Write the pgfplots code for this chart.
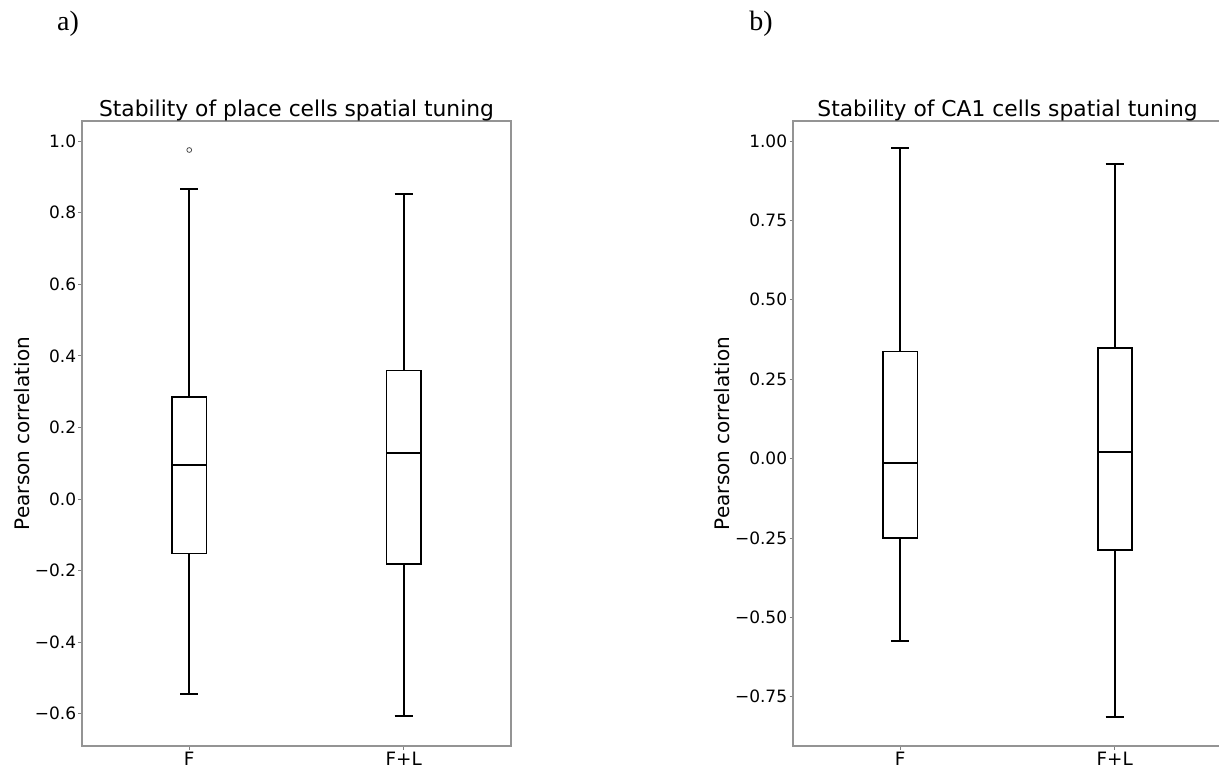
\documentclass[border=0pt]{standalone}
\usepackage{fontspec}
\setmainfont{DejaVu Sans}
\newfontfamily\timesfont{Liberation Serif}
\usepackage{pgfplots}
\pgfplotsset{compat=1.18}
\usepgfplotslibrary{statistics}
\begin{document}
\begin{tikzpicture}
\useasboundingbox (0,0) rectangle (609.5pt,384pt);
\pgfplotsset{
  myax/.style={
    scale only axis, width=214.5pt, height=312.5pt,
    anchor=south west,
    xmin=0.5, xmax=2.5,
    xtick={1,2}, xticklabels={F,F+L},
    xtick pos=bottom, ytick pos=left,
    tick align=outside, major tick length=1.75pt,
    tick style={black!50, line width=0.4pt},
    axis line style={black!42, line width=0.7pt},
    tick label style={font=\fontsize{8.5}{10}\selectfont, black},
    yticklabel style={inner sep=1pt},
    xticklabel style={font=\fontsize{9.2}{10}\selectfont, inner sep=0pt, yshift=-1pt},
    title style={font=\fontsize{10.9}{13}\selectfont, at={(0.5,1)}, anchor=base, yshift=-3.5pt},
    ylabel style={font=\fontsize{7.7}{9}\selectfont},
    every axis y label/.style={rotate=90, anchor=center},
    boxplot/draw direction=y,
  },
  bp/.style={draw=black, line width=0.9pt, solid, mark=o, mark size=1.2pt,
    mark options={draw=black!70, line width=0.4pt}},
}
\begin{axis}[myax, at={(41pt,11pt)},
  ymin=-0.69, ymax=1.056,
  ytick={-0.6,-0.4,-0.2,0,0.2,0.4,0.6,0.8,1.0},
  yticklabels={−0.6,−0.4,−0.2,0.0,0.2,0.4,0.6,0.8,1.0},
  title={Stability of place cells spatial tuning},
  ylabel={Pearson correlation},
  y label style={at={(axis description cs:-0.14,0.5)}},
]
\addplot[bp, boxplot prepared={draw position=1, median=0.095, upper quartile=0.286, lower quartile=-0.152, upper whisker=0.865, lower whisker=-0.545, box extend=0.16, whisker extend=0.085}] coordinates {(1,0.975)};
\addplot[bp, boxplot prepared={draw position=2, median=0.128, upper quartile=0.359, lower quartile=-0.181, upper whisker=0.853, lower whisker=-0.607, box extend=0.16, whisker extend=0.085}] coordinates {};
\end{axis}
\begin{axis}[myax, at={(396.5pt,11pt)},
  ymin=-0.905, ymax=1.063,
  ytick={-0.75,-0.5,-0.25,0,0.25,0.5,0.75,1.0},
  yticklabels={−0.75,−0.50,−0.25,0.00,0.25,0.50,0.75,1.00},
  title={Stability of CA1 cells spatial tuning},
  ylabel={Pearson correlation},
  y label style={at={(axis description cs:-0.165,0.5)}},
]
\addplot[bp, boxplot prepared={draw position=1, median=-0.013, upper quartile=0.337, lower quartile=-0.249, upper whisker=0.977, lower whisker=-0.574, box extend=0.16, whisker extend=0.085}] coordinates {};
\addplot[bp, boxplot prepared={draw position=2, median=0.022, upper quartile=0.347, lower quartile=-0.287, upper whisker=0.927, lower whisker=-0.814, box extend=0.16, whisker extend=0.085}] coordinates {};
\end{axis}
\node[font=\timesfont\fontsize{14}{16}\selectfont, anchor=center] at (34pt,372pt) {a)};
\node[font=\timesfont\fontsize{14}{16}\selectfont, anchor=center] at (380.5pt,372pt) {b)};
\end{tikzpicture}
\end{document}
